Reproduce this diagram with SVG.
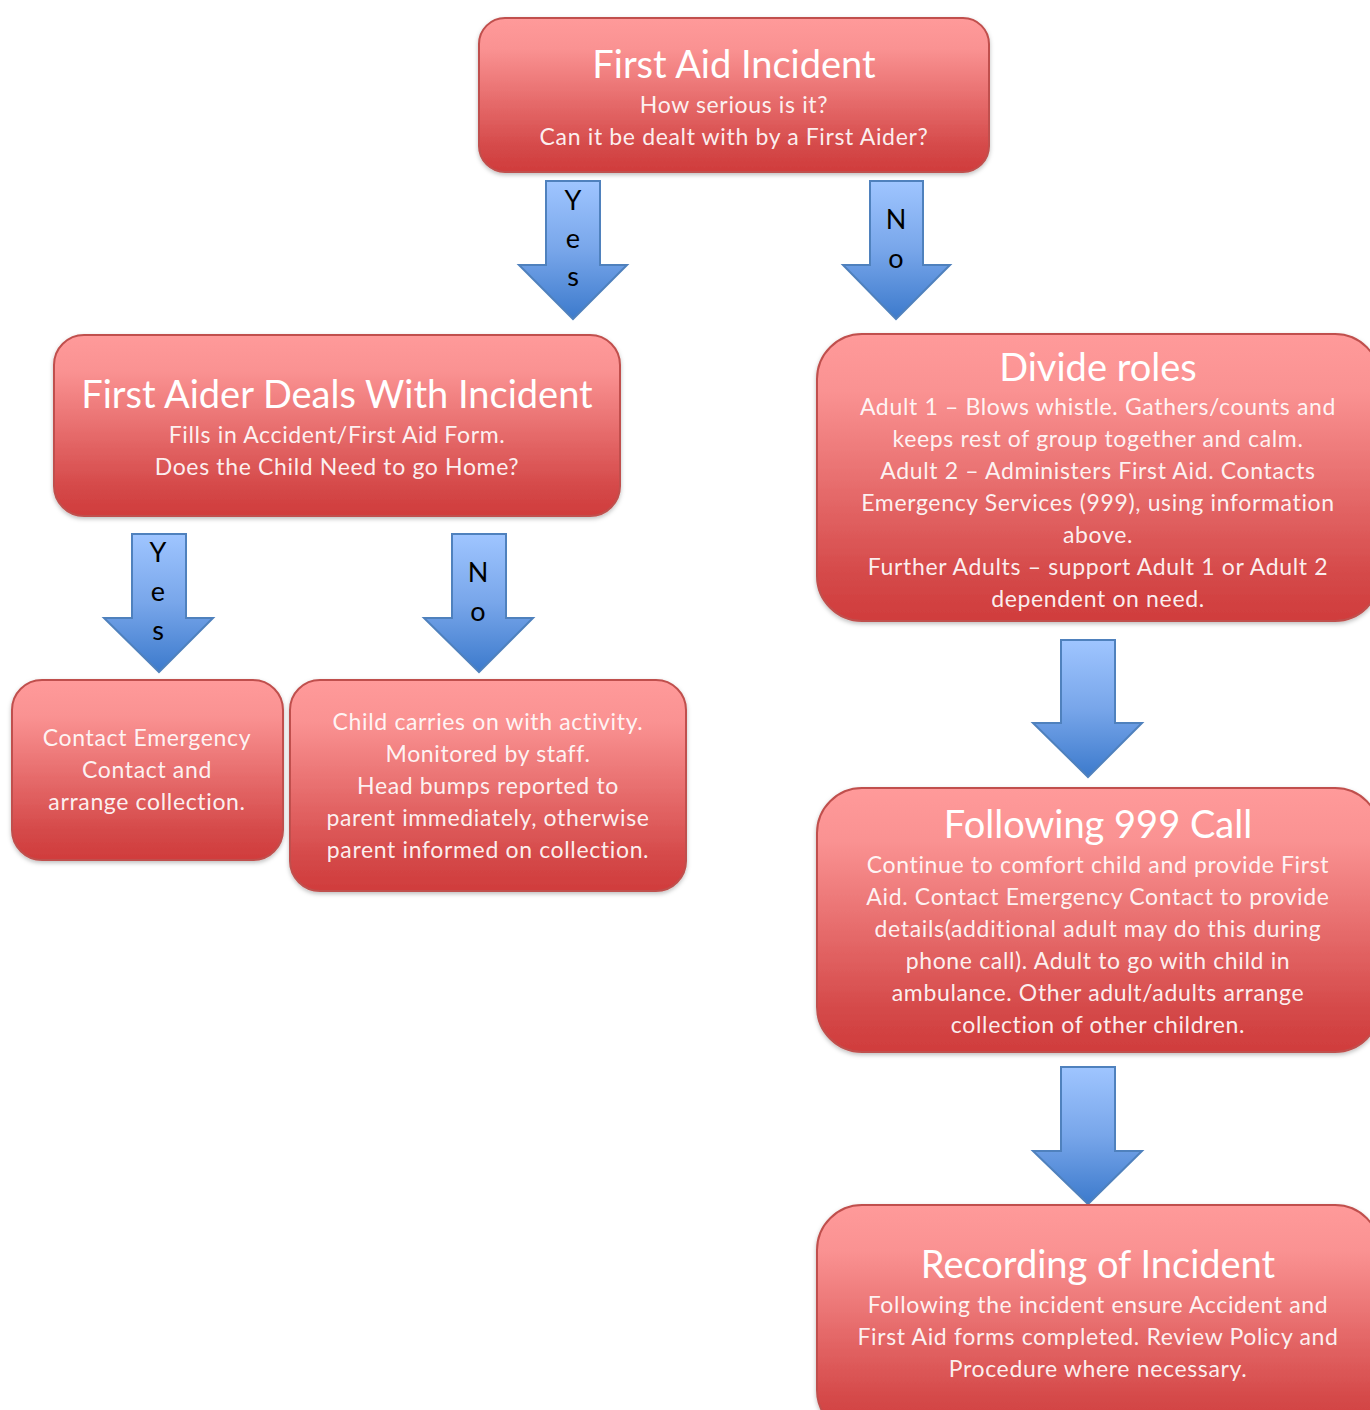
<svg xmlns="http://www.w3.org/2000/svg" width="1370" height="1410" viewBox="0 0 1370 1410">
<defs>
<linearGradient id="rg" x1="0" y1="0" x2="0" y2="1">
<stop offset="0" stop-color="#ff9a9a"/>
<stop offset="0.2" stop-color="#fa9292"/>
<stop offset="0.85" stop-color="#d44848"/>
<stop offset="1" stop-color="#d03c3c"/>
</linearGradient>
<linearGradient id="bg" x1="0" y1="0" x2="0" y2="1">
<stop offset="0" stop-color="#9fc5ff"/>
<stop offset="0.5" stop-color="#78a6ea"/>
<stop offset="1" stop-color="#3c7acc"/>
</linearGradient>
<filter id="sh" x="-5%" y="-5%" width="110%" height="115%">
<feDropShadow dx="0" dy="2" stdDeviation="2" flood-color="#000" flood-opacity="0.25"/>
</filter>
</defs>
<style>
.box{fill:url(#rg);stroke:#c0504d;stroke-width:2;filter:url(#sh)}
.arr{fill:url(#bg);stroke:#4f81bd;stroke-width:2}
text{font-family:Lato,"Open Sans","Liberation Sans",sans-serif;text-anchor:middle}
.t{fill:#fff;font-size:38px}
.s{fill:#fff;fill-opacity:0.92;font-size:23px;letter-spacing:0.65px}
.a{fill:#000;font-size:27px}
</style>
<g id="connectors">
<g id="arrow-yes1"><path class="arr" d="M546,181 H600 V265 H627 L573,319 L519,265 H546 Z"/><text class="a" x="573" y="210">Y</text><text class="a" x="573" y="248">e</text><text class="a" x="573" y="286">s</text></g>
<g id="arrow-no1"><path class="arr" d="M870,181 H923 V265 H950 L896,319 L843,265 H870 Z"/><text class="a" x="896" y="229">N</text><text class="a" x="896" y="268">o</text></g>
<g id="arrow-yes2"><path class="arr" d="M132,534 H186 V618 H213 L159,672 L104,618 H132 Z"/><text class="a" x="158" y="562">Y</text><text class="a" x="158" y="601">e</text><text class="a" x="158" y="640">s</text></g>
<g id="arrow-no2"><path class="arr" d="M452,534 H506 V618 H533 L479,672 L424,618 H452 Z"/><text class="a" x="478" y="582">N</text><text class="a" x="478" y="621">o</text></g>
<g id="arrow-3"><path class="arr" d="M1061,640 H1115 V723 H1142 L1088,777 L1033,723 H1061 Z"/></g>
<g id="arrow-4"><path class="arr" d="M1061,1067 H1115 V1151 H1142 L1088,1204 L1033,1151 H1061 Z"/></g>
</g>
<g id="node-first-aid-incident">
<rect class="box" x="479" y="18" width="510" height="154" rx="26"/>
<text class="t" x="734" y="78">First Aid Incident</text>
<text class="s" x="734" y="113">How serious is it?</text>
<text class="s" x="734" y="145">Can it be dealt with by a First Aider?</text>
</g>
<g id="node-first-aider-deals">
<rect class="box" x="54" y="335" width="566" height="181" rx="30"/>
<text class="t" x="337" y="408">First Aider Deals With Incident</text>
<text class="s" x="337" y="443">Fills in Accident/First Aid Form.</text>
<text class="s" x="337" y="475">Does the Child Need to go Home?</text>
</g>
<g id="node-contact-emergency">
<rect class="box" x="12" y="680" width="271" height="180" rx="30"/>
<text class="s" x="147" y="746">Contact Emergency</text>
<text class="s" x="147" y="778">Contact and</text>
<text class="s" x="147" y="810">arrange collection.</text>
</g>
<g id="node-child-carries-on">
<rect class="box" x="290" y="680" width="396" height="211" rx="30"/>
<text class="s" x="488" y="730">Child carries on with activity.</text>
<text class="s" x="488" y="762">Monitored by staff.</text>
<text class="s" x="488" y="794">Head bumps reported to</text>
<text class="s" x="488" y="826">parent immediately, otherwise</text>
<text class="s" x="488" y="858">parent informed on collection.</text>
</g>
<g id="node-divide-roles">
<rect class="box" x="817" y="334" width="563" height="287" rx="45"/>
<text class="t" x="1098" y="381">Divide roles</text>
<text class="s" x="1098" y="415">Adult 1 – Blows whistle. Gathers/counts and</text>
<text class="s" x="1098" y="447">keeps rest of group together and calm.</text>
<text class="s" x="1098" y="479">Adult 2 – Administers First Aid. Contacts</text>
<text class="s" x="1098" y="511">Emergency Services (999), using information</text>
<text class="s" x="1098" y="543">above.</text>
<text class="s" x="1098" y="575">Further Adults – support Adult 1 or Adult 2</text>
<text class="s" x="1098" y="607">dependent on need.</text>
</g>
<g id="node-following-999">
<rect class="box" x="817" y="788" width="563" height="264" rx="45"/>
<text class="t" x="1098" y="838">Following 999 Call</text>
<text class="s" x="1098" y="873">Continue to comfort child and provide First</text>
<text class="s" x="1098" y="905">Aid. Contact Emergency Contact to provide</text>
<text class="s" x="1098" y="937">details(additional adult may do this during</text>
<text class="s" x="1098" y="969">phone call). Adult to go with child in</text>
<text class="s" x="1098" y="1001">ambulance. Other adult/adults arrange</text>
<text class="s" x="1098" y="1033">collection of other children.</text>
</g>
<g id="node-recording">
<rect class="box" x="817" y="1205" width="563" height="230" rx="45"/>
<text class="t" x="1098" y="1278">Recording of Incident</text>
<text class="s" x="1098" y="1313">Following the incident ensure Accident and</text>
<text class="s" x="1098" y="1345">First Aid forms completed. Review Policy and</text>
<text class="s" x="1098" y="1377">Procedure where necessary.</text>
</g>
</svg>
